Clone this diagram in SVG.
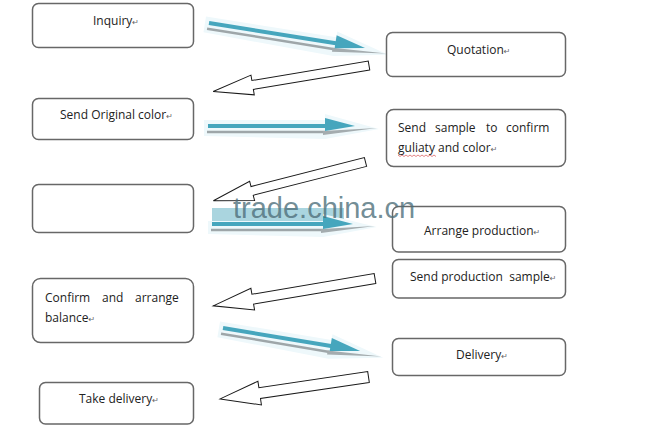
<svg xmlns="http://www.w3.org/2000/svg" width="649" height="435" viewBox="0 0 649 435">
<style>
.box{fill:#fff;stroke:#676767;stroke-width:1.5}
.t{font-family:"Open Sans","Liberation Sans",sans-serif;font-size:12px;fill:#222}
.rt{font-family:"DejaVu Sans",sans-serif;font-size:8px;fill:#666}
.blk{fill:#fff;stroke:#1a1a1a;stroke-width:1}
.glow{fill:#eef8fb}
.gs{stroke:#9ea6a9;stroke-width:2.5;fill:none}
.gh{fill:#a4acaf}
.ts{stroke:#46a6bd;stroke-width:4;fill:none}
.th{fill:#46a6bd}
.wm{font-family:"Liberation Sans",Arial,sans-serif;font-size:29px;fill:#4e6f7a;fill-opacity:.8}
</style>
<rect width="649" height="435" fill="#fff"/>

<g id="connectors">
  <!-- blue arrows (right-pointing) -->
  <g transform="translate(209,23) rotate(9.1)">
    <polygon class="glow" points="-4,-6 128,-6 128,-12 182,3 128,13 -4,10"/>
    <line class="gs" x1="-1" y1="6" x2="128" y2="6"/>
    <polygon class="gh" points="126,5 180,2 126,9"/>
    <line class="ts" x1="0" y1="0" x2="130" y2="0"/>
    <polygon class="th" points="128,-8 158,0 128,5"/>
  </g>
  <g transform="translate(208,126)">
    <polygon class="glow" points="-4,-6 117,-6 117,-12 171,3 117,13 -4,10"/>
    <line class="gs" x1="-1" y1="6" x2="117" y2="6"/>
    <polygon class="gh" points="115,5 169,2 115,9"/>
    <line class="ts" x1="0" y1="0" x2="119" y2="0"/>
    <polygon class="th" points="117,-8 147,0 117,5"/>
  </g>
  <g transform="translate(212,224)">
    <rect x="0" y="-16" width="132" height="14" fill="#86c3d1" fill-opacity=".7"/>
    <polygon class="glow" points="-4,-3 111,-3 111,-10 165,3 111,13 -4,10"/>
    <line class="gs" x1="-1" y1="6" x2="111" y2="6"/>
    <polygon class="gh" points="109,5 163,2 109,9"/>
    <line class="ts" x1="0" y1="0" x2="113" y2="0"/>
    <polygon class="th" points="111,-8 141,0 111,5"/>
  </g>
  <g transform="translate(223,328) rotate(9.5)">
    <polygon class="glow" points="-4,-6 109,-6 109,-12 163,3 109,13 -4,10"/>
    <line class="gs" x1="-1" y1="6" x2="109" y2="6"/>
    <polygon class="gh" points="107,5 161,2 107,9"/>
    <line class="ts" x1="0" y1="0" x2="111" y2="0"/>
    <polygon class="th" points="109,-8 139,0 109,5"/>
  </g>

  <!-- white block arrows (left-pointing) -->
  <g transform="translate(369,65.5) rotate(170.5)">
    <polygon class="blk" points="0,-4.5 118,-4.5 118,-10 158,0 118,10 118,4.5 0,4.5"/>
  </g>
  <g transform="translate(365.5,162) rotate(165.7)">
    <polygon class="blk" points="0,-4.5 117,-4.5 117,-10 157,0 117,10 117,4.5 0,4.5"/>
  </g>
  <g transform="translate(375,278.5) rotate(170.4)">
    <polygon class="blk" points="0,-5 124,-5 124,-11 164,0 124,11 124,5 0,5"/>
  </g>
  <g transform="translate(368.5,377) rotate(171.6)">
    <polygon class="blk" points="0,-5.5 110,-5.5 110,-12 150,0 110,12 110,5.5 0,5.5"/>
  </g>
</g>

<g id="inquiry">
  <rect class="box" x="32.5" y="3.5" width="161" height="44" rx="6"/>
  <text class="t" x="93" y="25">Inquiry<tspan class="rt">↵</tspan></text>
</g>
<g id="quotation">
  <rect class="box" x="386.5" y="32.5" width="179" height="44" rx="6"/>
  <text class="t" x="447" y="54">Quotation<tspan class="rt">↵</tspan></text>
</g>
<g id="send-original-color">
  <rect class="box" x="32.5" y="98.5" width="161" height="41" rx="6"/>
  <text class="t" x="60" y="119">Send Original color<tspan class="rt">↵</tspan></text>
</g>
<g id="send-sample">
  <rect class="box" x="386.5" y="109.5" width="179" height="57" rx="7"/>
  <text class="t" y="132"><tspan x="398">Send</tspan><tspan x="435">sample</tspan><tspan x="486">to</tspan><tspan x="506">confirm</tspan></text>
  <text class="t" x="398" y="152">guliaty and color<tspan class="rt">↵</tspan></text>
  <polyline points="398,155 400,156.5 402,155 404,156.5 406,155 408,156.5 410,155 412,156.5 414,155 416,156.5 418,155 420,156.5 422,155 424,156.5 426,155 428,156.5 430,155 432,156.5 434,155 436,156.5" fill="none" stroke="#d03030" stroke-width="0.6"/>
</g>
<g id="blank-box">
  <rect class="box" x="32.5" y="184.5" width="161" height="48" rx="6"/>
</g>
<g id="arrange-production">
  <rect class="box" x="392.5" y="206.5" width="173" height="45.5" rx="6"/>
  <text class="t" x="424" y="235">Arrange production<tspan class="rt">↵</tspan></text>
</g>
<g id="send-production-sample">
  <rect class="box" x="392.5" y="259.5" width="173" height="38.5" rx="6"/>
  <text class="t" x="410" y="281" xml:space="preserve">Send production  sample<tspan class="rt">↵</tspan></text>
</g>
<g id="confirm-balance">
  <rect class="box" x="32.5" y="278.5" width="161" height="64" rx="8"/>
  <text class="t" y="302"><tspan x="45">Confirm</tspan><tspan x="102">and</tspan><tspan x="135">arrange</tspan></text>
  <text class="t" x="45" y="322">balance<tspan class="rt">↵</tspan></text>
</g>
<g id="delivery">
  <rect class="box" x="392.5" y="338.5" width="173" height="37" rx="6"/>
  <text class="t" x="456" y="359">Delivery<tspan class="rt">↵</tspan></text>
</g>
<g id="take-delivery">
  <rect class="box" x="39.5" y="382.5" width="154" height="41.5" rx="6"/>
  <text class="t" x="79" y="403">Take delivery<tspan class="rt">↵</tspan></text>
</g>

<text class="wm" x="233" y="218">trade.china.cn</text>
</svg>
